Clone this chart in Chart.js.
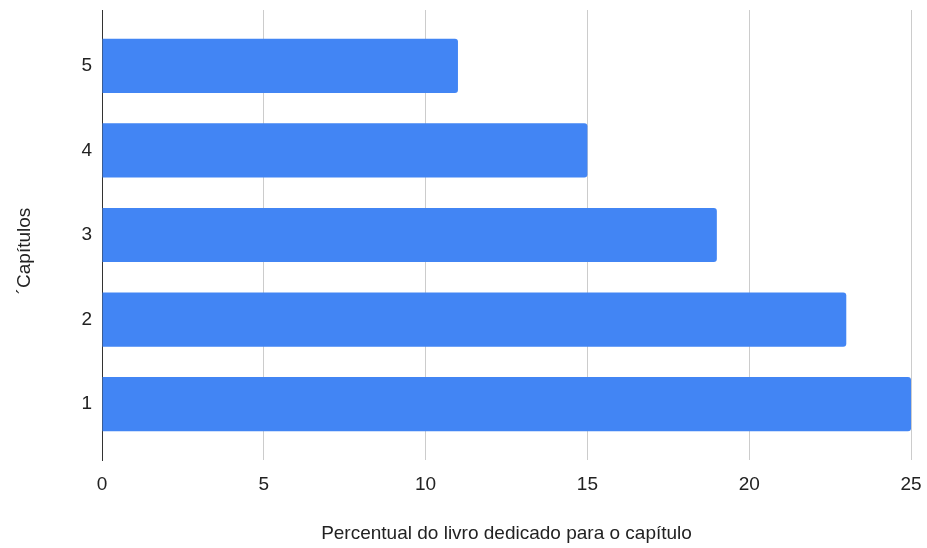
<!DOCTYPE html>
<html>
<head>
<meta charset="utf-8">
<script src="https://cdn.jsdelivr.net/npm/chart.js@4/dist/chart.umd.min.js"></script>
<style>
  html, body { margin: 0; padding: 0; background: #fff; }
  #wrap { width: 927px; height: 548px; }
</style>
</head>
<body>
<div id="wrap"><canvas id="c" width="927" height="548"></canvas></div>
<script>
// Chapters and the share of the book each one takes (percent)
const chapters = [1, 2, 3, 4, 5];
const chapterLabels = ['1', '2', '3', '4', '5'];
const percentages = [25, 23, 19, 15, 11];
const xTicks = [0, 5, 10, 15, 20, 25];

const xTitle = 'Percentual do livro dedicado para o capítulo';
const yTitle = '´Capítulos';

const fontFamily = '"Liberation Sans", Arial, sans-serif';
const font = { family: fontFamily, size: 19 };
const textColor = '#222222';

const points = chapters.map((c, i) => ({ x: percentages[i], y: c }));

// Vertical axis title, drawn rotated beside the tick labels
const yTitlePlugin = {
  id: 'yTitle',
  afterDraw(chart) {
    const { ctx, chartArea } = chart;
    const cy = (chartArea.top + chartArea.bottom) / 2 + 16;
    ctx.save();
    ctx.translate(25, cy);
    ctx.rotate(-Math.PI / 2);
    ctx.font = `${font.size}px ${fontFamily}`;
    ctx.fillStyle = textColor;
    ctx.textAlign = 'center';
    ctx.textBaseline = 'middle';
    ctx.fillText(yTitle, 0, 0);
    ctx.restore();
  }
};

new Chart(document.getElementById('c'), {
  type: 'bar',
  data: {
    datasets: [{
      data: points,
      backgroundColor: '#4285F4',
      borderWidth: 0,
      borderRadius: 3,
      categoryPercentage: 0.8,
      barPercentage: 0.8
    }]
  },
  options: {
    indexAxis: 'y',
    responsive: false,
    animation: false,
    devicePixelRatio: 1,
    layout: { padding: 0 },
    plugins: { legend: { display: false }, tooltip: { enabled: false } },
    scales: {
      x: {
        type: 'linear',
        min: xTicks[0],
        max: xTicks[xTicks.length - 1],
        afterBuildTicks: s => { s.ticks = xTicks.map(v => ({ value: v })); },
        afterFit: s => {
          s.height = 88;
          s.paddingLeft = 0;
          s.paddingRight = 16;
        },
        grid: {
          color: ctx => (ctx.tick && ctx.tick.value === 0) ? 'rgba(0,0,0,0)' : '#cccccc',
          lineWidth: 1,
          drawTicks: false
        },
        border: { display: false },
        ticks: { font, color: textColor, padding: 13, maxRotation: 0 },
        title: {
          display: true,
          text: xTitle,
          font,
          color: textColor,
          padding: { top: 0, bottom: 3 }
        }
      },
      y: {
        type: 'linear',
        offset: false,
        min: 0.34,
        max: 5.66,
        afterBuildTicks: s => { s.ticks = chapters.map(v => ({ value: v })); },
        afterFit: s => {
          s.width = 102;
          s.paddingTop = 10;
          s.paddingBottom = 0;
        },
        grid: { display: false, drawTicks: false, offset: false },
        border: { display: true, color: '#333333', width: 1 },
        ticks: {
          font,
          color: textColor,
          padding: 10,
          callback: v => chapterLabels[chapters.indexOf(v)]
        },
        title: { display: false }
      }
    }
  },
  plugins: [yTitlePlugin]
});
</script>
</body>
</html>
